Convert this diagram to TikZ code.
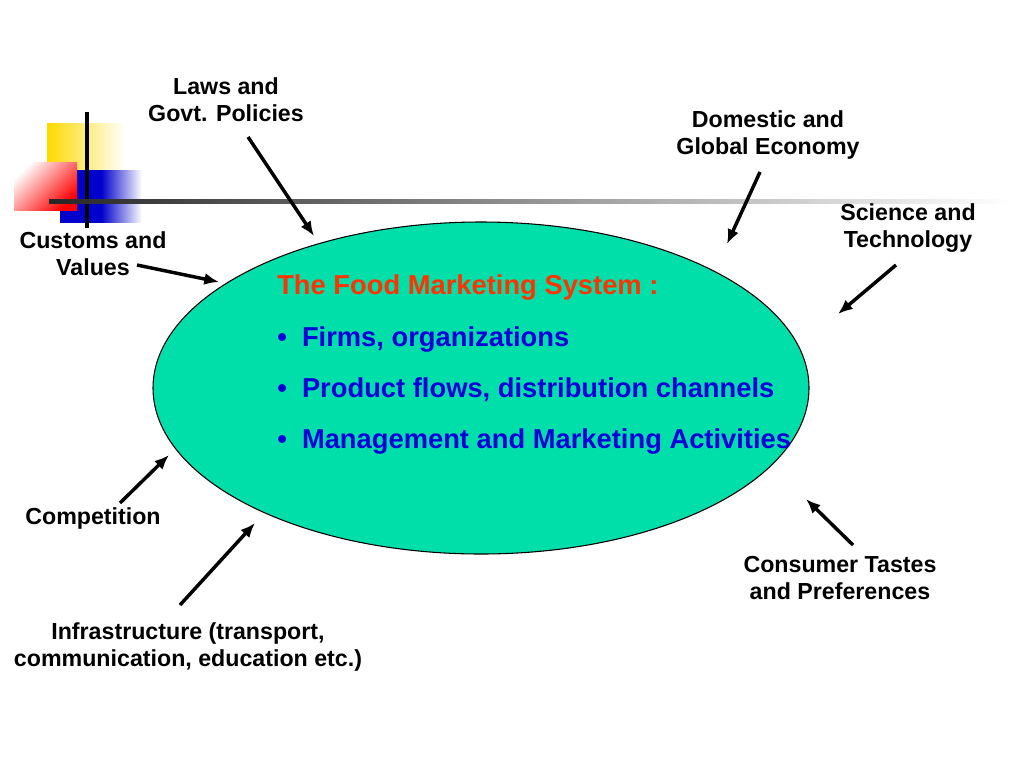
\documentclass[tikz,border=0pt]{standalone}
\usepackage{fontspec}
\setmainfont{Liberation Sans}
\usetikzlibrary{shapes.geometric,arrows.meta}
\begin{document}
\begin{tikzpicture}[x=0.75pt,y=-0.75pt,
  lbl/.style={font=\fontsize{17.4}{20.5}\selectfont\bfseries,align=center,text=black,inner sep=0pt},
  arr/.style={-{Latex[length=11pt,width=9pt]},line width=2.6pt},
  itm/.style={font=\fontsize{20.5}{24}\selectfont\bfseries,text=blue!85!black,anchor=west,inner sep=0pt}]
\useasboundingbox (0,0) rectangle (1024,768);
% decoration
\shade[left color=yellow!70!orange, right color=white] (47,123) rectangle (125,172);
\shade[left color=blue!80!black, right color=white, middle color=blue!80!black] (60,170) rectangle (142,222);
\shade[shading=axis, left color=white, right color=red, shading angle=45] (14,162) rectangle (77,210);
\draw[line width=3pt] (87,112) -- (87,228);
\shade[left color=black!85, right color=white] (49,199) rectangle (1010,203.5);
% ellipse
\node[draw=black,fill={rgb,255:red,0;green,222;blue,170},line width=0.8pt,ellipse,minimum width=492pt,minimum height=249pt,inner sep=0pt] (sys) at (481,388) {};
\node[font=\fontsize{20.5}{24}\selectfont\bfseries,text={rgb,255:red,255;green,51;blue,0},anchor=west,inner sep=0pt] (t) at (277,287) {The Food Marketing System :};
\node[itm] (b1) at (277,339) {\textbullet\ \ Firms, organizations};
\node[itm] (b2) at (277,390) {\textbullet\ \ Product flows, distribution channels};
\node[itm] (b3) at (277,441) {\textbullet\ \ Management and Marketing Activities};
% labels
\node[lbl] (laws) at (226,100) {Laws and\\Govt. Policies};
\node[lbl] (dom) at (768,135) {Domestic and\\Global Economy};
\node[lbl] (sci) at (908,228) {Science and\\Technology};
\node[lbl] (cus) at (93,254) {Customs and\\Values};
\node[lbl] (comp) at (93,518) {Competition};
\node[lbl] (infra) at (188,647) {Infrastructure (transport,\\communication, education etc.)};
\node[lbl] (cons) at (840,578) {Consumer Tastes\\and Preferences};
% arrow coordinates
\coordinate (a1) at (248,137); \coordinate (e1) at (314,236);
\coordinate (a2) at (760,172); \coordinate (e2) at (727,244);
\coordinate (a3) at (896,265); \coordinate (e3) at (838,314);
\coordinate (a4) at (137,265); \coordinate (e4) at (219,282);
\coordinate (a5) at (120,503); \coordinate (e5) at (169,455);
\coordinate (a6) at (180,605); \coordinate (e6) at (255,523);
\coordinate (a7) at (853,545); \coordinate (e7) at (806,499);
\foreach \i in {1,...,7} {\draw[arr] (a\i) -- (e\i);}
\end{tikzpicture}
\end{document}
